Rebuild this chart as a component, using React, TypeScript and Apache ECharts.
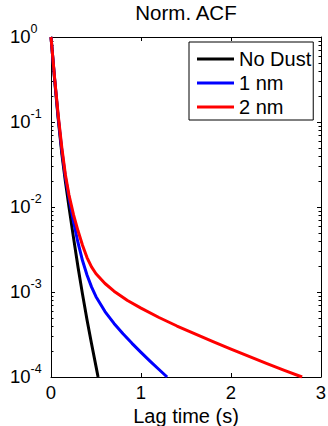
import React, { useEffect, useRef } from "react";
import * as echarts from "echarts";

const FONT = "'Liberation Sans', Arial, Helvetica, sans-serif";

// Lag times (s) and normalised ACF values for each curve
const noDustT = [0, 0.04, 0.08, 0.12, 0.16, 0.2, 0.25, 0.3, 0.35, 0.4, 0.45, 0.5, 0.523];
const noDustV = [1, 0.3162, 0.1096, 0.04266, 0.01995, 0.01, 0.004365, 0.001972, 0.000944, 0.000473, 0.000248, 0.0001334, 0.0001];

const dust1T = [0, 0.04, 0.08, 0.12, 0.16, 0.21, 0.25, 0.3, 0.35, 0.4, 0.45, 0.5, 0.6, 0.7, 0.8, 0.9, 1.0, 1.1, 1.2, 1.29];
const dust1V = [1, 0.3236, 0.1148, 0.04677, 0.02239, 0.01122, 0.006761, 0.003802, 0.002344, 0.001585, 0.001148, 0.000881, 0.000589, 0.000427, 0.000322, 0.000249, 0.000195, 0.000154, 0.0001225, 0.0001];

const dust2T = [0, 0.04, 0.08, 0.12, 0.16, 0.2, 0.25, 0.3, 0.35, 0.4, 0.45, 0.5, 0.6, 0.7, 0.85, 1.0, 1.2, 1.4, 1.6, 1.8, 2.0, 2.2, 2.4, 2.6, 2.79];
const dust2V = [1, 0.3311, 0.1202, 0.0501, 0.02399, 0.0138, 0.008128, 0.005248, 0.003548, 0.002541, 0.001972, 0.001641, 0.001259, 0.001023, 0.000794, 0.000646, 0.000501, 0.000398, 0.000321, 0.000261, 0.000213, 0.0001746, 0.0001439, 0.0001191, 0.0001];

const seriesNames = ["No Dust", "1 nm", "2 nm"];
const seriesColors = ["#000000", "#0000ff", "#ff0000"];

const xTicks = [0, 1, 2, 3];
const yDecades = [-4, -3, -2, -1, 0];
// minor tick positions on the log axis (2..9 within every decade)
const minorTicks: number[] = [];
for (let d = -4; d < 0; d++) {
  for (let m = 2; m <= 9; m++) minorTicks.push(m * Math.pow(10, d));
}

const pairs = (t: number[], v: number[]) => t.map((x, i) => [x, v[i]]);

export default function App() {
  const ref = useRef<HTMLDivElement>(null);

  useEffect(() => {
    if (!ref.current) return;
    const chart = echarts.init(ref.current, null, { renderer: "svg" });

    const yLabel = (value: number) => {
      const e = Math.round(Math.log10(value));
      const exp = e < 0 ? "-" + Math.abs(e) : String(e);
      if (e === yDecades[0]) return `{bl|10}{e|${exp}}`;
      return `{b|10}{e|${exp}}`;
    };

    const lineSeries = (i: number, data: number[][], z: number) => ({
      type: "line" as const,
      name: seriesNames[i],
      data,
      showSymbol: false,
      symbol: "none",
      lineStyle: { color: seriesColors[i], width: 3, join: "round" as const },
      itemStyle: { color: seriesColors[i] },
      z,
    });

    const option: echarts.EChartsOption = {
      animation: false,
      backgroundColor: "#ffffff",
      title: {
        text: "Norm. ACF",
        left: 186,
        top: 2,
        padding: 0,
        textAlign: "center",
        textStyle: { fontFamily: FONT, fontSize: 20.5, fontWeight: "normal", color: "#000" },
      },
      legend: {
        data: seriesNames,
        orient: "vertical",
        left: 189,
        top: 42,
        icon: "rect",
        itemWidth: 37,
        itemHeight: 3,
        itemGap: 4,
        padding: [7, 2, 3, 8],
        borderColor: "#000",
        borderWidth: 1,
        borderRadius: 0,
        backgroundColor: "#fff",
        textStyle: { fontFamily: FONT, fontSize: 20, lineHeight: 20, color: "#000" },
      },
      grid: {
        left: 51,
        top: 37,
        right: 7,
        bottom: 49,
        containLabel: false,
        outerBoundsMode: "none",
      } as any,
      xAxis: [
        {
          type: "value",
          min: xTicks[0],
          max: xTicks[xTicks.length - 1],
          interval: 1,
          name: "Lag time (s)",
          nameLocation: "middle",
          nameGap: 25,
          nameTextStyle: { fontFamily: FONT, fontSize: 20, color: "#000" },
          axisLine: { show: true, lineStyle: { color: "#000", width: 1 } },
          axisTick: { show: true, inside: true, length: 4, lineStyle: { color: "#000" } },
          axisLabel: { fontFamily: FONT, fontSize: 18.5, lineHeight: 18, color: "#000", margin: 6 },
          splitLine: { show: false },
        },
        {
          type: "value",
          position: "top",
          min: xTicks[0],
          max: xTicks[xTicks.length - 1],
          interval: 1,
          axisLine: { show: true, onZero: false, lineStyle: { color: "#000", width: 1 } },
          axisTick: { show: true, inside: true, length: 4, lineStyle: { color: "#000" } },
          axisLabel: { show: false },
          splitLine: { show: false },
        },
      ],
      yAxis: [
        {
          type: "log",
          logBase: 10,
          min: Math.pow(10, yDecades[0]),
          max: Math.pow(10, yDecades[yDecades.length - 1]),
          axisLine: { show: true, onZero: false, lineStyle: { color: "#000", width: 1 } },
          axisTick: { show: true, inside: true, length: 4, lineStyle: { color: "#000" } },
          axisLabel: {
            fontFamily: FONT,
            color: "#000",
            align: "left",
            margin: 41,
            formatter: yLabel,
            rich: {
              b: { fontFamily: FONT, fontSize: 18.5, lineHeight: 18, color: "#000", verticalAlign: "bottom" },
              bl: { fontFamily: FONT, fontSize: 18.5, lineHeight: 18, padding: [14, 0, 0, 0], color: "#000", verticalAlign: "bottom" },
              e: { fontFamily: FONT, fontSize: 12.5, lineHeight: 12, padding: [0, 0, 11, 0], color: "#000", verticalAlign: "bottom" },
            },
          },
          splitLine: { show: false },
        },
        {
          type: "log",
          logBase: 10,
          position: "right",
          min: Math.pow(10, yDecades[0]),
          max: Math.pow(10, yDecades[yDecades.length - 1]),
          axisLine: { show: true, onZero: false, lineStyle: { color: "#000", width: 1 } },
          axisTick: { show: true, inside: true, length: 4, lineStyle: { color: "#000" } },
          axisLabel: { show: false },
          splitLine: { show: false },
        },
      ],
      series: [
        {
          type: "custom",
          name: "minor ticks",
          silent: true,
          xAxisIndex: 0,
          yAxisIndex: 0,
          clip: false,
          z: 1,
          data: minorTicks.map((v) => [0, v]),
          renderItem: (params: any, api: any) => {
            const cs = params.coordSys;
            const pt = api.coord([0, api.value(1)]);
            const y = Math.round(pt[1]) + 0.5;
            const style = { stroke: "#000", lineWidth: 1 };
            return {
              type: "group",
              children: [
                { type: "line", shape: { x1: cs.x, y1: y, x2: cs.x + 2.5, y2: y }, style },
                { type: "line", shape: { x1: cs.x + cs.width - 2.5, y1: y, x2: cs.x + cs.width, y2: y }, style },
              ],
            };
          },
        } as any,
        lineSeries(0, pairs(noDustT, noDustV), 3),
        lineSeries(1, pairs(dust1T, dust1V), 4),
        lineSeries(2, pairs(dust2T, dust2V), 5),
      ],
    };

    chart.setOption(option);
    return () => chart.dispose();
  }, []);

  return (
    <div
      ref={ref}
      style={{ position: "absolute", left: 0, top: 0, width: 328, height: 426, background: "#fff" }}
    />
  );
}
